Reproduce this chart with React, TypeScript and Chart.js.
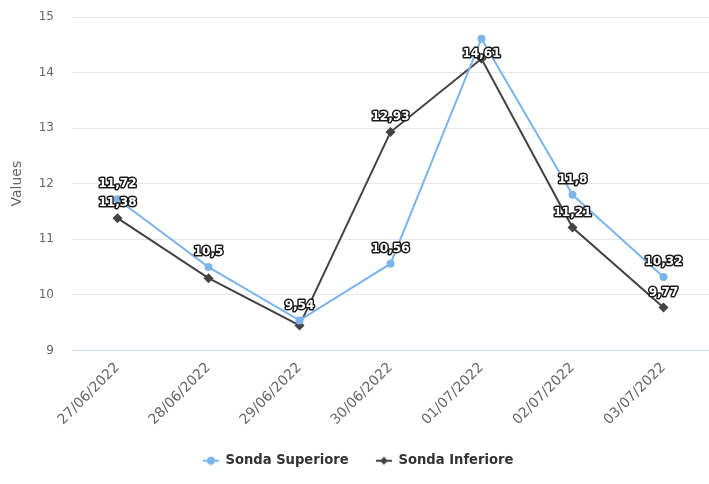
import React, { useEffect, useRef } from "react";
import { Chart, registerables } from "chart.js";

Chart.register(...registerables);

const categories = ["27/06/2022", "28/06/2022", "29/06/2022", "30/06/2022", "01/07/2022", "02/07/2022", "03/07/2022"];
const sondaSuperiore = [11.72, 10.5, 9.54, 10.56, 14.61, 11.8, 10.32];
const sondaInferiore = [11.38, 10.3, 9.45, 12.93, 14.25, 11.21, 9.77];
const superioreLabels = ["11,72", "10,5", "9,54", "10,56", "14,61", "11,8", "10,32"];
const inferioreLabels = ["11,38", "", "", "12,93", "", "11,21", "9,77"];
const yTicks = [9, 10, 11, 12, 13, 14, 15];

const BLUE = "#7cb5ec";
const DARK = "#434348";

function legendIcon(color: string, shape: "circle" | "diamond") {
  const c = document.createElement("canvas");
  c.width = 18;
  c.height = 10;
  const ctx = c.getContext("2d")!;
  ctx.strokeStyle = color;
  ctx.lineWidth = 2;
  ctx.beginPath();
  ctx.moveTo(1, 5);
  ctx.lineTo(17, 5);
  ctx.stroke();
  ctx.fillStyle = color;
  ctx.beginPath();
  if (shape === "circle") {
    ctx.arc(9, 5, 4, 0, Math.PI * 2);
  } else {
    ctx.moveTo(9, 1);
    ctx.lineTo(13, 5);
    ctx.lineTo(9, 9);
    ctx.lineTo(5, 5);
    ctx.closePath();
  }
  ctx.fill();
  return c;
}

const stretchPlugin = {
  id: "stretchRight",
  afterLayout(chart: any) {
    const target = chart.width;
    const x = chart.scales.x;
    const area = chart.chartArea;
    area.right = target;
    area.width = target - area.left;
    x.right = target;
    x.width = target - x.left;
    x.configure();
  },
};

const labelPlugin = {
  id: "pointLabels",
  afterDatasetsDraw(chart: any) {
    const ctx = chart.ctx;
    const sets = [
      { idx: 0, labels: superioreLabels },
      { idx: 1, labels: inferioreLabels },
    ];
    ctx.save();
    ctx.font = "bold 12px 'DejaVu Sans'";
    ctx.textAlign = "center";
    ctx.textBaseline = "middle";
    ctx.lineJoin = "round";
    sets.forEach((s) => {
      const meta = chart.getDatasetMeta(s.idx);
      meta.data.forEach((pt: any, i: number) => {
        const txt = s.labels[i];
        if (!txt) return;
        let y = pt.y - 15;
        if (s.idx === 0 && i === 4) y = pt.y + 15;
        ctx.strokeStyle = "#1a1a1a";
        ctx.lineWidth = 3;
        ctx.strokeText(txt, pt.x, y);
        ctx.fillStyle = "#ffffff";
        ctx.fillText(txt, pt.x, y);
      });
    });
    ctx.restore();
  },
};

export default function App() {
  const ref = useRef<HTMLCanvasElement>(null);
  useEffect(() => {
    document.body.style.margin = "0";
    const chart = new Chart(ref.current!, {
      type: "line",
      data: {
        labels: categories,
        datasets: [
          {
            label: "Sonda Superiore",
            data: sondaSuperiore,
            borderColor: BLUE,
            backgroundColor: BLUE,
            borderWidth: 2,
            pointRadius: 4,
            pointStyle: "circle",
            pointBorderWidth: 0,
            tension: 0,
          },
          {
            label: "Sonda Inferiore",
            data: sondaInferiore,
            borderColor: DARK,
            backgroundColor: DARK,
            borderWidth: 2,
            pointRadius: 5,
            pointStyle: "rectRot",
            pointBorderWidth: 0,
            tension: 0,
          },
        ],
      },
      options: {
        responsive: false,
        animation: false,
        layout: { padding: { top: 17, right: 0, left: 8, bottom: 6 } },
        plugins: {
          tooltip: { enabled: false },
          legend: {
            position: "bottom",
            labels: {
              usePointStyle: true,
              generateLabels: () => [
                { text: "Sonda Superiore", pointStyle: legendIcon(BLUE, "circle"), fontColor: "#333333", datasetIndex: 0, lineWidth: 0 } as any,
                { text: "Sonda Inferiore", pointStyle: legendIcon(DARK, "diamond"), fontColor: "#333333", datasetIndex: 1, lineWidth: 0 } as any,
              ],
              font: { family: "'DejaVu Sans Condensed', 'DejaVu Sans'", size: 14.6, weight: "bold" },
              color: "#333333",
              padding: 28,
            },
          },
        },
        scales: {
          x: {
            offset: true,
            grid: {
              display: true,
              drawOnChartArea: false,
              drawTicks: true,
              tickLength: 9,
              tickColor: "rgba(0,0,0,0)",
              color: "rgba(0,0,0,0)",
              offset: true,
            },
            border: { display: true, color: "#ccd6eb", width: 1 },
            ticks: {
              minRotation: 45,
              maxRotation: 45,
              color: "#666666",
              font: { family: "'DejaVu Sans'", size: 14 },
              padding: 0,
            },
            afterFit: (s: any) => {
              s.height = 75;
              s.paddingLeft = 0;
              s.paddingRight = 0;
            },
          },
          y: {
            min: 9,
            max: 15,
            afterBuildTicks: (s: any) => {
              s.ticks = yTicks.map((v) => ({ value: v }));
            },
            grid: {
              color: "#e6e6e6",
              drawTicks: true,
              tickLength: 15,
              tickColor: "rgba(0,0,0,0)",
            },
            border: { display: false },
            ticks: {
              color: "#666666",
              font: { family: "'DejaVu Sans'", size: 12 },
              padding: 3,
            },
            title: {
              display: true,
              text: "Values",
              color: "#666666",
              font: { family: "'DejaVu Sans'", size: 14 },
              padding: { top: 1, bottom: 0 },
            },
            afterFit: (s: any) => {
              s.width = 64;
              s.paddingTop = 0;
              s.paddingBottom = 0;
            },
          },
        },
      },
      plugins: [stretchPlugin, labelPlugin],
    } as any);
    return () => chart.destroy();
  }, []);
  return <canvas ref={ref} width={709} height={484} style={{ display: "block" }} />;
}
